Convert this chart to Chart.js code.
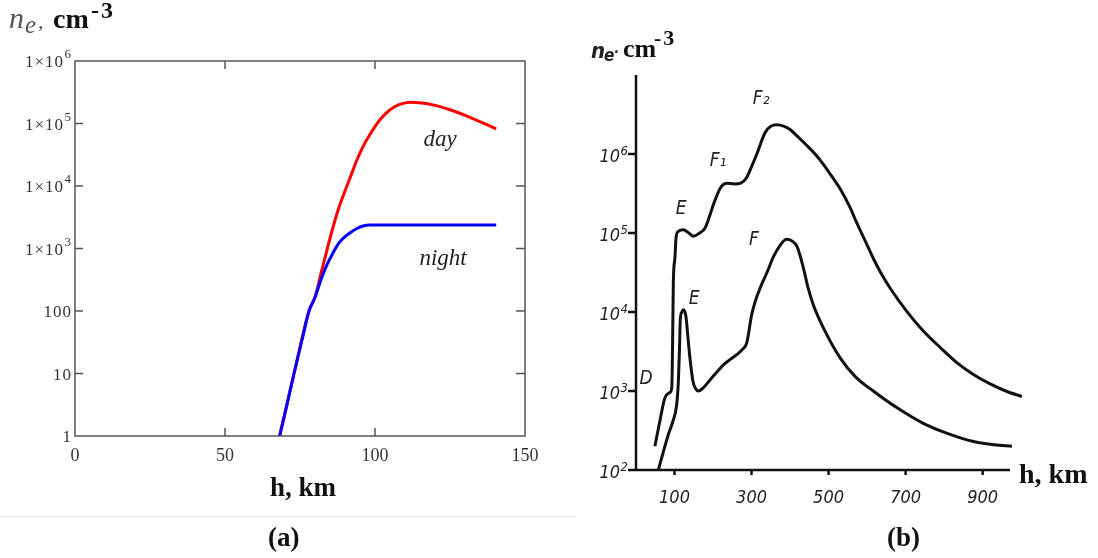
<!DOCTYPE html>
<html>
<head>
<meta charset="utf-8">
<script src="https://cdn.jsdelivr.net/npm/chart.js@4.4.1/dist/chart.umd.min.js"></script>
<style>
  html, body { margin: 0; padding: 0; background: #fff; }
  #page { position: relative; width: 1098px; height: 558px; overflow: hidden; }
  .box { position: absolute; top: 0; height: 558px; }
  .t { position: absolute; white-space: nowrap; line-height: 1; font-family: "Liberation Serif", "DejaVu Serif", serif; }
  .b { font-weight: bold; color: #111; }
  .i { font-style: italic; }
  .hand { font-family: "Liberation Sans Narrow", "DejaVu Sans Condensed", "DejaVu Sans", sans-serif; font-style: italic; font-weight: bold; color: #222; }
</style>
</head>
<body>
<div id="page">
  <div class="box" style="left:0;width:560px"><canvas id="chartA"></canvas></div>
  <div class="box" style="left:560px;width:538px"><canvas id="chartB"></canvas></div>

  <!-- panel (a) titles -->
  <div class="t i" style="left:9px;top:3px;font-size:30px;color:#555">n</div>
  <div class="t i" style="left:25px;top:12px;font-size:25px;color:#555">e</div>
  <div class="t i" style="left:38px;top:10px;font-size:22px;color:#555">,</div>
  <div class="t b" style="left:53px;top:5px;font-size:28px">cm</div>
  <div class="t b" style="left:91px;top:-2px;font-size:24px;letter-spacing:2px">-3</div>
  <div class="t b" style="left:270px;top:474px;font-size:27px">h, km</div>
  <div class="t b" style="left:268px;top:524px;font-size:27px">(a)</div>
  <div style="position:absolute;left:0;top:516px;width:575px;height:1px;background:#e4e4e4"></div>

  <!-- panel (b) titles -->
  <div class="t hand" style="left:591px;top:40px;font-size:22px">n</div>
  <div class="t hand" style="left:604px;top:47px;font-size:17px">e</div>
  <div class="t hand" style="left:614px;top:45px;font-size:14px">·</div>
  <div class="t b" style="left:623px;top:36px;font-size:26px">cm</div>
  <div class="t b" style="left:654px;top:27px;font-size:22px;letter-spacing:2px">-3</div>
  <div class="t b" style="left:1019px;top:460px;font-size:28px">h, km</div>
  <div class="t b" style="left:887px;top:524px;font-size:27px">(b)</div>
</div>

<script>
// (a) model profiles, h in km, ne in cm^-3
const nightH = [68.2, 70, 73, 76, 78, 80, 82, 84, 86, 88, 90, 92, 94, 96, 98.3, 110, 125, 140.4];
const nightNe = [1, 2.3, 10, 40, 100, 166, 316, 550, 850, 1230, 1550, 1820, 2090, 2290, 2380, 2380, 2380, 2380];
const dayH = [68.2, 73, 78, 80, 82, 84, 86, 88, 90, 92, 94, 96, 98, 100, 102, 104, 106, 108, 111.7, 115, 120, 125, 130, 135, 140.4];
const dayNe = [1, 10, 100, 166, 400, 950, 2190, 4570, 8320, 14800, 26300, 42700, 63100, 89100, 120000, 151000, 178000, 200000, 219000, 214000, 195000, 166000, 135000, 107000, 82200];
const xTicksA = [0, 50, 100, 150];
const yTicksA = [1, 10, 100, 1e3, 1e4, 1e5, 1e6];
const yBaseA = ['1', '10', '100', '1×10', '1×10', '1×10', '1×10'];
const yExpA = ['', '', '', '3', '4', '5', '6'];
const notesA = [
  { text: 'day', h: 121.7, ne: 5.4e4 },
  { text: 'night', h: 122.7, ne: 690 }
];

// (b) measured profiles (upper = day, lower = night)
const upperH = [49, 62, 75, 88, 93, 95, 97, 101, 104, 110, 123, 137, 149, 165, 179, 190, 201, 212, 222, 235, 255, 272, 287, 300, 313, 335, 350, 365, 385, 400, 420, 443, 465, 486.5, 508, 530, 556, 573, 599, 616, 634, 660, 703, 746, 790, 833, 876, 919.5, 960, 1002];
const upperNe = [200, 417, 813, 955, 1120, 3980, 24500, 47900, 87100, 105000, 110000, 100000, 91200, 100000, 115000, 158000, 229000, 316000, 389000, 427000, 417000, 427000, 501000, 692000, 977000, 1860000, 2240000, 2340000, 2240000, 2040000, 1660000, 1290000, 1000000, 741000, 525000, 363000, 209000, 135000, 72400, 47900, 32400, 20000, 10200, 5750, 3550, 2290, 1620, 1230, 1000, 851];
const lowerH = [58, 71, 84, 96, 105.7, 110, 113, 115, 119, 123, 127, 130, 135, 140, 148, 155, 162, 175, 192, 210, 227, 245, 261.5, 277, 287.5, 300.5, 310, 322, 340, 357, 375, 391, 405, 418, 434.5, 447, 460.5, 486.5, 530, 570, 616, 680, 746, 810, 876, 930, 976];
const lowerNe = [100, 170, 282, 417, 676, 1320, 3470, 7940, 10000, 10700, 10000, 8510, 4680, 2630, 1320, 1070, 1000, 1100, 1380, 1740, 2140, 2510, 2880, 3390, 4070, 9330, 13800, 20000, 31600, 50100, 70800, 83200, 79400, 67600, 36300, 20000, 12300, 6310, 2630, 1510, 1000, 603, 389, 288, 229, 209, 200];
const xTicksB = [100, 300, 500, 700, 900];
const yTicksB = [1e2, 1e3, 1e4, 1e5, 1e6];
const yBaseB = ['10', '10', '10', '10', '10'];
const yExpB = ['2', '3', '4', '5', '6'];
const axisEndB = 971;
const notesB = [
  { text: 'D', h: 26, ne: 1410 },
  { text: 'E', h: 117, ne: 200000 },
  { text: 'F₁', h: 213, ne: 813000 },
  { text: 'F₂', h: 325, ne: 5010000 },
  { text: 'F', h: 306, ne: 81300 },
  { text: 'E', h: 151, ne: 14500 }
];

const pts = (hs, vs) => hs.map((h, i) => ({ x: h, y: vs[i] }));

// y labels like 1×10^5, drawn with a raised exponent
function powerLabels(ctx, yScale, ticks, bases, exps, right, baseFont, expFont, baseDy, expDy) {
  ctx.textAlign = 'right';
  ctx.textBaseline = 'alphabetic';
  ticks.forEach((v, i) => {
    const py = yScale.getPixelForValue(v);
    let x = right;
    if (exps[i]) {
      ctx.font = expFont;
      ctx.fillText(exps[i], x, py + expDy);
      x -= ctx.measureText(exps[i]).width + 0.5;
    }
    ctx.font = baseFont;
    ctx.fillText(bases[i], x, py + baseDy);
  });
}

const frameA = {
  id: 'frameA',
  afterDatasetsDraw(chart) {
    const { ctx, chartArea: a, scales: { x, y } } = chart;
    ctx.save();
    ctx.strokeStyle = '#555';
    ctx.lineWidth = 1.5;
    ctx.strokeRect(a.left, a.top, a.right - a.left, a.bottom - a.top);
    ctx.beginPath();
    xTicksA.slice(1, -1).forEach(v => {
      const px = x.getPixelForValue(v);
      ctx.moveTo(px, a.top); ctx.lineTo(px, a.top + 8);
      ctx.moveTo(px, a.bottom); ctx.lineTo(px, a.bottom - 8);
    });
    yTicksA.slice(1, -1).forEach(v => {
      const py = y.getPixelForValue(v);
      ctx.moveTo(a.left, py); ctx.lineTo(a.left + 8, py);
      ctx.moveTo(a.right, py); ctx.lineTo(a.right - 9, py);
    });
    ctx.stroke();
    ctx.fillStyle = '#333';
    ctx.letterSpacing = '1px';
    powerLabels(ctx, y, yTicksA, yBaseA, yExpA, a.left - 3,
      '17px "Liberation Serif"', '13px "Liberation Serif"', 6, -3);
    ctx.letterSpacing = '0px';
    ctx.font = 'italic 23px "Liberation Serif"';
    ctx.fillStyle = '#222';
    ctx.textAlign = 'center';
    ctx.textBaseline = 'middle';
    notesA.forEach(n => ctx.fillText(n.text, x.getPixelForValue(n.h), y.getPixelForValue(n.ne)));
    ctx.restore();
  }
};

const handFamily = '"Liberation Sans Narrow", "DejaVu Sans Condensed", "DejaVu Sans", sans-serif';

const frameB = {
  id: 'frameB',
  afterDatasetsDraw(chart) {
    const { ctx, chartArea: a, scales: { x, y } } = chart;
    const x0 = x.getPixelForValue(0);
    const y0 = y.getPixelForValue(100);
    ctx.save();
    ctx.strokeStyle = '#111';
    ctx.lineWidth = 2.5;
    ctx.beginPath();
    ctx.moveTo(x0, a.top); ctx.lineTo(x0, y0);
    ctx.lineTo(x.getPixelForValue(axisEndB), y0);
    yTicksB.forEach(v => {
      const py = y.getPixelForValue(v);
      ctx.moveTo(x0, py); ctx.lineTo(x0 - 8, py);
    });
    xTicksB.forEach(v => {
      const px = x.getPixelForValue(v);
      ctx.moveTo(px, y0); ctx.lineTo(px, y0 + 5);
    });
    ctx.stroke();
    ctx.fillStyle = '#222';
    powerLabels(ctx, y, yTicksB, yBaseB, yExpB, x0 - 8,
      'italic 18px ' + handFamily, 'italic 13px ' + handFamily, 8, 1);
    ctx.font = 'italic 19px ' + handFamily;
    ctx.textAlign = 'center';
    ctx.textBaseline = 'middle';
    notesB.forEach(n => ctx.fillText(n.text, x.getPixelForValue(n.h), y.getPixelForValue(n.ne)));
    ctx.restore();
  }
};

const noGrid = { display: false, drawTicks: false };

new Chart(document.getElementById('chartA'), {
  type: 'line',
  data: {
    datasets: [
      { data: pts(nightH, nightNe), borderColor: '#0000ff', borderWidth: 3, pointRadius: 0, cubicInterpolationMode: 'monotone' },
      { data: pts(dayH, dayNe), borderColor: '#ff0000', borderWidth: 3, pointRadius: 0, cubicInterpolationMode: 'monotone' }
    ]
  },
  options: {
    responsive: true,
    maintainAspectRatio: false,
    animation: false,
    layout: { padding: { top: 61, right: 35, left: 0, bottom: 0 } },
    plugins: { legend: { display: false }, tooltip: { enabled: false } },
    scales: {
      x: {
        type: 'linear', min: 0, max: 150,
        afterBuildTicks: s => { s.ticks = xTicksA.map(v => ({ value: v })); },
        afterFit: s => { s.height = 122; },
        grid: noGrid, border: { display: false },
        ticks: { padding: 9, color: '#333', font: { family: '"Liberation Serif", serif', size: 18 }, maxRotation: 0, autoSkip: false }
      },
      y: {
        type: 'logarithmic', min: 1, max: 1e6,
        afterBuildTicks: s => { s.ticks = yTicksA.map(v => ({ value: v })); },
        afterFit: s => { s.width = 75; },
        grid: noGrid, border: { display: false },
        ticks: { display: false }
      }
    }
  },
  plugins: [frameA]
});

new Chart(document.getElementById('chartB'), {
  type: 'line',
  data: {
    datasets: [
      { data: pts(upperH, upperNe), borderColor: '#111', borderWidth: 3, pointRadius: 0, cubicInterpolationMode: 'monotone' },
      { data: pts(lowerH, lowerNe), borderColor: '#111', borderWidth: 3, pointRadius: 0, cubicInterpolationMode: 'monotone' }
    ]
  },
  options: {
    responsive: true,
    maintainAspectRatio: false,
    animation: false,
    layout: { padding: { top: 75, right: 73, left: 0, bottom: 0 } },
    plugins: { legend: { display: false }, tooltip: { enabled: false } },
    scales: {
      x: {
        type: 'linear', min: 0, max: 1010,
        afterBuildTicks: s => { s.ticks = xTicksB.map(v => ({ value: v })); },
        afterFit: s => { s.height = 88; },
        grid: noGrid, border: { display: false },
        ticks: { padding: 18, color: '#222', font: { family: handFamily, size: 18, style: 'italic' }, maxRotation: 0, autoSkip: false }
      },
      y: {
        type: 'logarithmic', min: 100, max: 1e7,
        afterBuildTicks: s => { s.ticks = yTicksB.map(v => ({ value: v })); },
        afterFit: s => { s.width = 76; },
        grid: noGrid, border: { display: false },
        ticks: { display: false }
      }
    }
  },
  plugins: [frameB]
});
</script>
</body>
</html>
